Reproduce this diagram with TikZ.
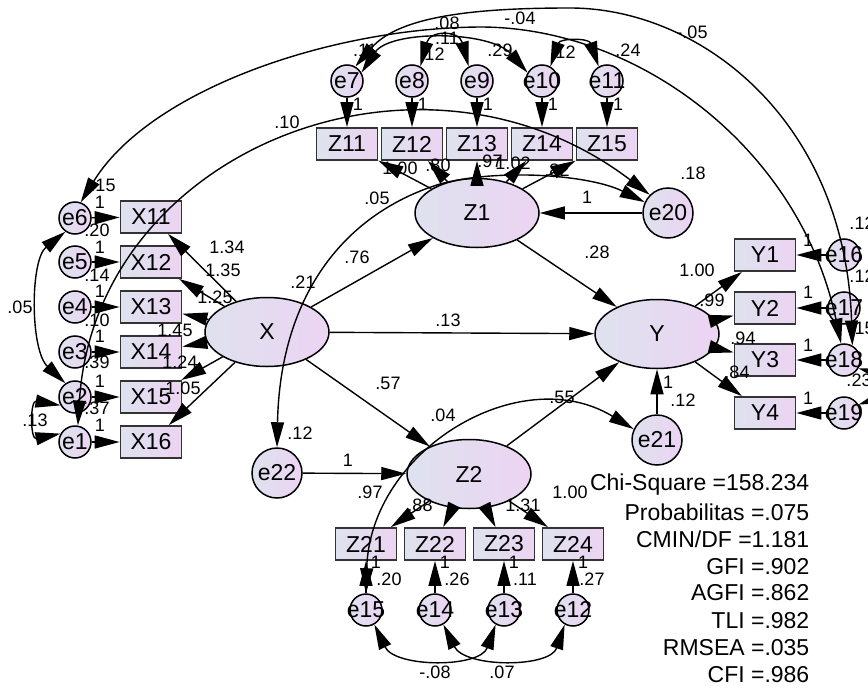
\documentclass[tikz,border=0pt]{standalone}
\usepackage{fontspec}
\setmainfont{Liberation Sans}
\usetikzlibrary{arrows.meta,shapes.geometric}
\definecolor{cL}{RGB}{222,226,238}
\definecolor{cR}{RGB}{236,212,243}
\newcommand{\fnode}{\fontsize{23}{23}\selectfont}
\newcommand{\flab}{\fontsize{18}{18}\selectfont}
\newcommand{\ffit}{\fontsize{23}{23}\selectfont}
\begin{document}
\begin{tikzpicture}[x=1pt,y=-1pt,
  line width=1.4pt,
  arr/.style={-{Triangle[length=25pt 0 1,width=13pt 0 1]}},
  cov/.style={{Triangle[length=25pt 0 1,width=13pt 0 1]}-{Triangle[length=25pt 0 1,width=13pt 0 1]}},
  obs/.style={rectangle, draw=black!80, line width=1.8pt, minimum width=61pt, minimum height=32pt, inner sep=0pt, left color=cL, right color=cR, font=\fnode},
  lat/.style={ellipse, draw, line width=1.5pt, minimum width=124pt, minimum height=69pt, inner sep=0pt, left color=cL, right color=cR, font=\fnode},
  errc/.style={circle, draw, line width=1.5pt, minimum size=32pt, inner sep=0pt, left color=cL, right color=cR, label={[font=\fnode,inner sep=0pt]center:#1}},
  errb/.style={circle, draw, line width=1.5pt, minimum size=50pt, inner sep=0pt, left color=cL, right color=cR, label={[font=\fnode,inner sep=0pt]center:#1}},
  lab/.style={font=\flab, inner sep=0pt},
  fittxt/.style={font=\ffit, inner sep=0pt, anchor=east}
]
\useasboundingbox (0,0) rectangle (868,688);

% observed X
\node[obs] (X11) at (151,217) {X11};
\node[obs] (X12) at (151,262) {X12};
\node[obs] (X13) at (151,307) {X13};
\node[obs] (X14) at (151,352) {X14};
\node[obs] (X15) at (151,397) {X15};
\node[obs] (X16) at (151,442) {X16};
\node[errc=e6] (e6) at (75,218) {};
\node[errc=e5] (e5) at (75,262) {};
\node[errc=e4] (e4) at (75,307) {};
\node[errc=e3] (e3) at (75,352) {};
\node[errc=e2] (e2) at (75,397) {};
\node[errc=e1] (e1) at (75,442) {};
\node[lat] (X) at (267,332) {X};

% Z1 block
\node[lat] (Z1) at (477,213) {Z1};
\node[obs] (Z11) at (347,144) {Z11};
\node[obs] (Z12) at (412,144) {Z12};
\node[obs] (Z13) at (477,144) {Z13};
\node[obs] (Z14) at (542,144) {Z14};
\node[obs] (Z15) at (607,144) {Z15};
\node[errc=e7] (e7) at (347,81) {};
\node[errc=e8] (e8) at (412,81) {};
\node[errc=e9] (e9) at (477,81) {};
\node[errc=e10] (e10) at (542,81) {};
\node[errc=e11] (e11) at (607,81) {};
\node[errb=e20] (e20) at (668,213) {};

% Y block
\node[lat] (Y) at (657,334) {Y};
\node[obs] (Y1) at (765,255) {Y1};
\node[obs] (Y2) at (765,308) {Y2};
\node[obs] (Y3) at (765,360) {Y3};
\node[obs] (Y4) at (765,413) {Y4};
\node[errc=e16] (e16) at (844,255) {};
\node[errc=e17] (e17) at (844,308) {};
\node[errc=e18] (e18) at (844,360) {};
\node[errc=e19] (e19) at (844,413) {};
\node[errb=e21] (e21) at (657,440) {};

% Z2 block
\node[lat] (Z2) at (469,474) {Z2};
\node[errb=e22] (e22) at (277,473) {};
\node[obs] (Z21) at (366,544) {Z21};
\node[obs] (Z22) at (435,544) {Z22};
\node[obs] (Z23) at (504,544) {Z23};
\node[obs] (Z24) at (573,544) {Z24};
\node[errc=e15] (e15) at (366,610) {};
\node[errc=e14] (e14) at (435,610) {};
\node[errc=e13] (e13) at (504,610) {};
\node[errc=e12] (e12) at (573,610) {};

% labels
\foreach \x/\y/\t [count=\i] in {
 447/23/.08, 520/18/-.04, 692/32/-.05, 365/50/.11, 432/54/.12, 447/38/.11, 500/50/.29, 563/52/.12, 628/50/.24,
 358/104/1, 423/104/1, 488/104/1, 553/104/1, 618/104/1,
 400/168/1.00, 438/165/.80, 490/161/.97, 513/163/1.02, 557/170/.82,
 287/122/.10, 377/198/.05, 693/173/.18, 587/197/1, 597/252/.28, 357/257/.76, 303/282/.21,
 227/247/1.34, 223/270/1.35, 215/297/1.25, 175/330/1.45, 180/362/1.24, 183/388/1.05,
 100/202/1, 100/247/1, 100/291/1, 100/336/1, 100/381/1, 100/425/1,
 103/185/.15, 97/230/.20, 97/275/.14, 97/320/.10, 97/362/.39, 97/408/.37,
 20/307/.05, 35/420/.13,
 448/320/.13, 388/383/.57, 443/415/.04, 562/397/.55, 300/433/.12, 348/460/1,
 668/382/1, 683/400/.12,
 697/270/1.00, 712/300/.99, 743/338/.94, 737/372/.84,
 808/240/1, 808/292/1, 808/345/1, 808/398/1,
 862/223/.12, 862/276/.12, 862/328/.15, 859/380/.23,
 370/492/.97, 420/505/.88, 523/505/1.31, 570/492/1.00,
 376/562/1, 445/562/1, 514/562/1, 583/562/1,
 389/579/.20, 457/579/.26, 525/579/.11, 592/579/.27,
 435/672/-.08, 502/672/.07}
 \node[lab] (lb\i) at (\x,\y) {\t};

% fit indices
\node[fittxt] (f1) at (810,485) {Chi-Square =158.234};
\node[fittxt] (f2) at (810,512) {Probabilitas =.075};
\node[fittxt] (f3) at (810,539) {CMIN/DF =1.181};
\node[fittxt] (f4) at (810,567) {GFI =.902};
\node[fittxt] (f5) at (810,593) {AGFI =.862};
\node[fittxt] (f6) at (810,621) {TLI =.982};
\node[fittxt] (f7) at (810,648) {RMSEA =.035};
\node[fittxt] (f8) at (810,675) {CFI =.986};

% measurement arrows
\foreach \i/\j in {6/11,5/12,4/13,3/14,2/15,1/16} {
  \draw[arr] (e\i) -- (X\j);
  \draw[arr] (X) -- (X\j);
}
\foreach \i/\j in {7/11,8/12,9/13,10/14,11/15} {
  \draw[arr] (e\i) -- (Z\j);
  \draw[arr] (Z1) -- (Z\j);
}
\foreach \i/\j in {16/1,17/2,18/3,19/4} {
  \draw[arr] (e\i) -- (Y\j);
  \draw[arr] (Y) -- (Y\j);
}
\foreach \i/\j in {15/21,14/22,13/23,12/24} {
  \draw[arr] (e\i) -- (Z\j);
  \draw[arr] (Z2) -- (Z\j);
}

% structural arrows
\draw[arr] (X) -- (Z1);
\draw[arr] (X) -- (Y);
\draw[arr] (X) -- (Z2);
\draw[arr] (Z1) -- (Y);
\draw[arr] (Z2) -- (Y);
\draw[arr] (e20) -- (Z1);
\draw[arr] (e21) -- (Y);
\draw[arr] (e22) -- (Z2);

% covariances
\draw[cov] (e1.80) .. controls (95,150) and (420,20) .. (e20.135);
\draw[cov] (e22.north) .. controls (280,300) and (340,215) .. (440,184) .. controls (500,168) and (590,175) .. (e20.155);
\draw[cov] (e15.north) .. controls (370,450) and (520,360) .. (e21.155);
\draw[cov] (e6.235) .. controls (30,260) and (30,350) .. (e2.125);
\draw[cov] (e2.210) .. controls (30,400) and (30,440) .. (e1.150);
\draw[cov] (e6.70) .. controls (150,90) and (330,28) .. (480,27) .. controls (640,27) and (800,150) .. (e18.100);
\draw[cov] (e7.60) .. controls (400,15) and (480,8) .. (570,8) .. controls (700,8) and (845,120) .. (e18.60);
\draw[cov] (e7.30) .. controls (390,30) and (490,30) .. (e10.150);
\draw[cov] (e8.60) .. controls (430,30) and (459,30) .. (e9.120);
\draw[cov] (e10.60) .. controls (560,38) and (589,38) .. (e11.120);
\draw[cov] (e15.300) .. controls (395,668) and (480,668) .. (e13.240);
\draw[cov] (e14.300) .. controls (465,668) and (550,668) .. (e12.240);
\draw[cov] (e18.330) .. controls (872,372) and (872,400) .. (e19.30);
\end{tikzpicture}
\end{document}
